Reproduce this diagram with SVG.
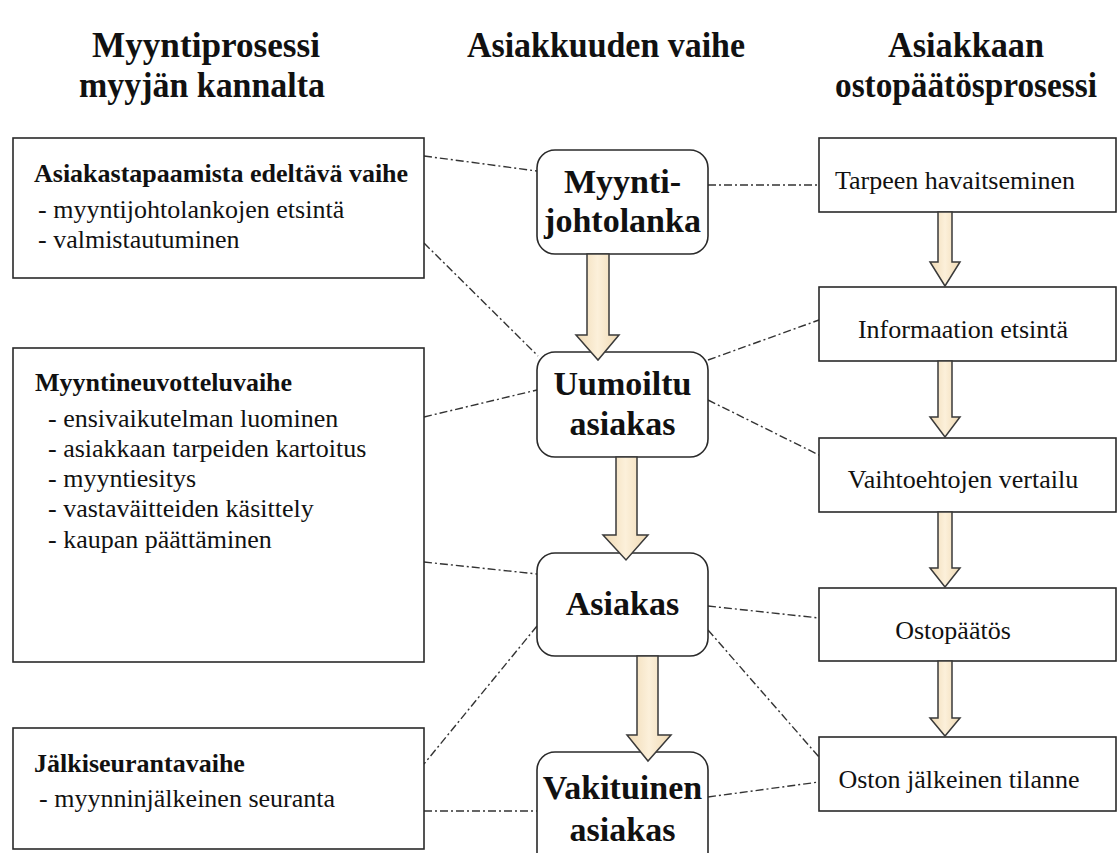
<svg xmlns="http://www.w3.org/2000/svg" width="1120" height="853" viewBox="0 0 1120 853">
<style>
text{font-family:"Liberation Serif","Times New Roman",serif;fill:#111}
.hdr{font-size:36px;font-weight:bold;text-anchor:middle}
.ttl{font-size:26px;font-weight:bold}
.itm{font-size:26px}
.mid{font-size:34px;font-weight:bold;text-anchor:middle}
.rt{font-size:26px;text-anchor:middle}
.box{fill:#fff;stroke:#2a2a2a;stroke-width:1.6}
.con{fill:none;stroke:#333;stroke-width:1.4;stroke-dasharray:8 3 2 3}
.fat{fill:url(#beige);stroke:#3a3a3a;stroke-width:1.5;stroke-linejoin:miter}
</style>
<defs>
<linearGradient id="beige" x1="0" y1="0" x2="1" y2="0">
<stop offset="0" stop-color="#efd9b3"/>
<stop offset="0.5" stop-color="#fcf0da"/>
<stop offset="1" stop-color="#efd9b3"/>
</linearGradient>
</defs>
<rect width="1120" height="853" fill="#fff"/>
<g id="headers">
<text class="hdr" x="206" y="57" textLength="228" lengthAdjust="spacingAndGlyphs">Myyntiprosessi</text>
<text class="hdr" x="202" y="97" textLength="246" lengthAdjust="spacingAndGlyphs">myyjän kannalta</text>
<text class="hdr" x="606" y="57" textLength="278" lengthAdjust="spacingAndGlyphs">Asiakkuuden vaihe</text>
<text class="hdr" x="966" y="57" textLength="156" lengthAdjust="spacingAndGlyphs">Asiakkaan</text>
<text class="hdr" x="966" y="97" textLength="262" lengthAdjust="spacingAndGlyphs">ostopäätösprosessi</text>
</g>
<g id="connectors">
<line class="con" x1="424" y1="156" x2="537" y2="171"/>
<line class="con" x1="424" y1="243" x2="538" y2="356"/>
<line class="con" x1="424" y1="417" x2="537" y2="390"/>
<line class="con" x1="424" y1="562" x2="537" y2="574"/>
<line class="con" x1="537" y1="626" x2="424" y2="764"/>
<line class="con" x1="424" y1="811" x2="537" y2="811"/>
<line class="con" x1="708" y1="185" x2="819" y2="185"/>
<line class="con" x1="708" y1="360" x2="819" y2="320"/>
<line class="con" x1="708" y1="400" x2="819" y2="455"/>
<line class="con" x1="708" y1="606" x2="819" y2="618"/>
<line class="con" x1="708" y1="630" x2="819" y2="757"/>
<line class="con" x1="708" y1="797" x2="819" y2="782"/>
</g>
<g id="n-edeltava">
<rect class="box" x="13" y="138" width="411" height="140"/>
<text class="ttl" x="34" y="182">Asiakastapaamista edeltävä vaihe</text>
<text class="itm" x="38" y="218">- myyntijohtolankojen etsintä</text>
<text class="itm" x="38" y="248">- valmistautuminen</text>
</g>
<g id="n-neuvottelu">
<rect class="box" x="13" y="348" width="411" height="314"/>
<text class="ttl" x="35" y="391">Myyntineuvotteluvaihe</text>
<text class="itm" x="48" y="427">- ensivaikutelman luominen</text>
<text class="itm" x="48" y="457">- asiakkaan tarpeiden kartoitus</text>
<text class="itm" x="48" y="487">- myyntiesitys</text>
<text class="itm" x="48" y="517">- vastaväitteiden käsittely</text>
<text class="itm" x="48" y="548">- kaupan päättäminen</text>
</g>
<g id="n-jalkiseuranta">
<rect class="box" x="13" y="728" width="411" height="121"/>
<text class="ttl" x="34" y="772">Jälkiseurantavaihe</text>
<text class="itm" x="39" y="807">- myynninjälkeinen seuranta</text>
</g>
<g id="n-myyntijohtolanka">
<rect class="box" x="537" y="150" width="171" height="104" rx="18"/>
<text class="mid" x="622.5" y="193">Myynti-</text>
<text class="mid" x="622.5" y="232">johtolanka</text>
</g>
<g id="n-uumoiltu">
<rect class="box" x="537" y="352" width="171" height="105" rx="18"/>
<text class="mid" x="622.5" y="395">Uumoiltu</text>
<text class="mid" x="622.5" y="435">asiakas</text>
</g>
<g id="n-asiakas">
<rect class="box" x="537" y="553" width="171" height="103" rx="18"/>
<text class="mid" x="622.5" y="615">Asiakas</text>
</g>
<g id="n-vakituinen">
<rect class="box" x="537" y="752" width="171" height="120" rx="18"/>
<text class="mid" x="622.5" y="799">Vakituinen</text>
<text class="mid" x="622.5" y="841">asiakas</text>
</g>
<g id="n-tarpeen">
<rect class="box" x="819" y="138" width="297" height="74"/>
<text class="rt" x="955" y="189">Tarpeen havaitseminen</text>
</g>
<g id="n-informaation">
<rect class="box" x="819" y="287" width="297" height="74"/>
<text class="rt" x="963" y="338">Informaation etsintä</text>
</g>
<g id="n-vaihtoehtojen">
<rect class="box" x="819" y="438" width="297" height="74"/>
<text class="rt" x="963" y="488">Vaihtoehtojen vertailu</text>
</g>
<g id="n-ostopaatos">
<rect class="box" x="819" y="588" width="297" height="73"/>
<text class="rt" x="953" y="639">Ostopäätös</text>
</g>
<g id="n-oston">
<rect class="box" x="819" y="737" width="297" height="74"/>
<text class="rt" x="959" y="788">Oston jälkeinen tilanne</text>
</g>
<g id="flow-arrows">
<path class="fat" d="M587,254 L609,254 L609,335 L619,335 L598,360 L576,335 L587,335 Z"/>
<path class="fat" d="M616,457 L637,457 L637,535 L648,535 L626,560 L603,535 L616,535 Z"/>
<path class="fat" d="M637,656 L658,656 L658,735 L671,735 L648,761 L627,735 L637,735 Z"/>
<path class="fat" d="M938,212 L952,212 L952,262 L960,262 L945,286 L930,262 L938,262 Z"/>
<path class="fat" d="M938,361 L952,361 L952,417 L960,417 L945,437 L930,417 L938,417 Z"/>
<path class="fat" d="M938,512 L952,512 L952,568 L960,568 L945,587 L930,568 L938,568 Z"/>
<path class="fat" d="M938,661 L952,661 L952,718 L960,718 L945,736 L930,718 L938,718 Z"/>
</g>
</svg>
